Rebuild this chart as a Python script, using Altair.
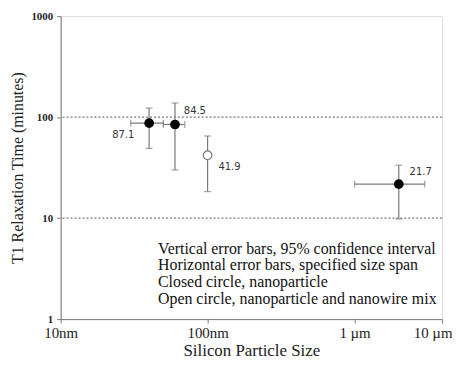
import altair as alt
import pandas as pd

# data (sizes in nm, relaxation time in minutes)
labels = ["87.1", "84.5", "41.9", "21.7"]
size_nm = [40, 60, 100, 2000]
size_lo = [30, 50, 100, 1000]
size_hi = [50, 70, 100, 3000]
t1 = [87.1, 84.5, 41.9, 21.7]
t1_lo = [49, 30, 18.3, 9.8]
t1_hi = [123, 138, 65, 33.4]
kind = ["closed", "closed", "open", "closed"]
label_dx = [-26, 20, 22, 22]
label_dy = [12, -14, 12, -12]

x_ticks = [10, 100, 1000, 3940]
x_tick_labels = ["10nm", "100nm", "1 µm", "10 µm"]
y_ticks = [1, 10, 100, 1000]
grid_vals = [10, 100]

notes = [
    "Vertical error bars, 95% confidence interval",
    "Horizontal error bars, specified size span",
    "Closed circle, nanoparticle",
    "Open circle, nanoparticle and nanowire mix",
]

df = pd.DataFrame({
    "label": labels, "size": size_nm, "slo": size_lo, "shi": size_hi,
    "t1": t1, "tlo": t1_lo, "thi": t1_hi, "kind": kind,
})
grid_df = pd.DataFrame({"g": grid_vals})

label_expr = " : ".join(
    f"datum.value == {v} ? '{l}'" for v, l in zip(x_ticks, x_tick_labels)
) + " : ''"

serif = "Liberation Serif"
gray = "#7a7a7a"

xscale = alt.Scale(type="log", domain=[10, 3940], nice=False)
yscale = alt.Scale(type="log", domain=[1, 1000], nice=False)

xaxis = alt.Axis(values=x_ticks, labelExpr=label_expr, title="Silicon Particle Size",
                 grid=False, labelFont=serif, labelFontSize=15, labelColor="#222",
                 labelAlign={"condition": {"test": "datum.value > 3000", "value": "right"},
                             "value": "center"},
                 labelOffset={"condition": {"test": "datum.value > 3000", "value": 10},
                              "value": 0},
                 titleFont=serif, titleFontSize=17, titleFontWeight="normal",
                 titleColor="#222", titlePadding=2, domainColor=gray, tickColor=gray,
                 tickSize=4, labelPadding=3, labelFlush=False)
yaxis = alt.Axis(values=y_ticks, format="d", title="T1 Relaxation Time (minutes)",
                 grid=False,
                 labelFont=serif, labelFontSize=11, labelFontWeight="bold",
                 labelColor="#222", titleFont=serif, titleFontSize=16,
                 titleFontWeight="normal", titleColor="#222", titlePadding=5,
                 domainColor=gray, tickColor=gray, tickSize=4, labelPadding=4)

base = alt.Chart(df)

grid = alt.Chart(grid_df).mark_rule(color="#555", strokeDash=[2, 2], strokeWidth=1).encode(
    y=alt.Y("g:Q", scale=yscale, axis=yaxis))

vbars = base.mark_errorbar(ticks=alt.TickConfig(size=7), color=gray, thickness=1.2).encode(
    x=alt.X("size:Q", scale=xscale, axis=xaxis),
    y=alt.Y("tlo:Q", scale=yscale, axis=yaxis),
    y2="thi:Q",
)

hbars = base.transform_filter("datum.slo != datum.shi").mark_errorbar(
    ticks=alt.TickConfig(size=7), color=gray, thickness=1.2).encode(
    x=alt.X("slo:Q", scale=xscale, axis=xaxis),
    x2="shi:Q",
    y=alt.Y("t1:Q", scale=yscale, axis=yaxis),
)

closed = base.transform_filter("datum.kind == 'closed'").mark_point(
    filled=True, color="black", size=95, opacity=1).encode(
    x=alt.X("size:Q", scale=xscale, axis=xaxis), y=alt.Y("t1:Q", scale=yscale, axis=yaxis))

opened = base.transform_filter("datum.kind == 'open'").mark_point(
    filled=True, fill="white", stroke=gray, strokeWidth=1.2, size=75, opacity=1).encode(
    x=alt.X("size:Q", scale=xscale, axis=xaxis), y=alt.Y("t1:Q", scale=yscale, axis=yaxis))

texts = []
for i in range(len(labels)):
    texts.append(
        alt.Chart(df.iloc[[i]]).mark_text(font="DejaVu Sans", fontSize=10, color="#333",
                                         dx=label_dx[i], dy=label_dy[i]).encode(
            x=alt.X("size:Q", scale=xscale, axis=xaxis),
            y=alt.Y("t1:Q", scale=yscale, axis=yaxis), text="label:N")
    )

note = alt.Chart(pd.DataFrame({"t": [notes]})).mark_text(
    font=serif, fontSize=16, color="#111", align="left", baseline="top",
    lineHeight=17).encode(x=alt.value(98), y=alt.value(226), text="t")

chart = alt.layer(grid, vbars, hbars, opened, closed, *texts, note).properties(
    width=384, height=305,
    autosize=alt.AutoSizeParams(type="none"),
    padding={"left": 53, "top": 7, "right": 10, "bottom": 40},
).configure_view(stroke=gray, strokeWidth=1.2).configure(background="white")

chart.save("out.html", embed_options={"renderer": "svg", "actions": False})
